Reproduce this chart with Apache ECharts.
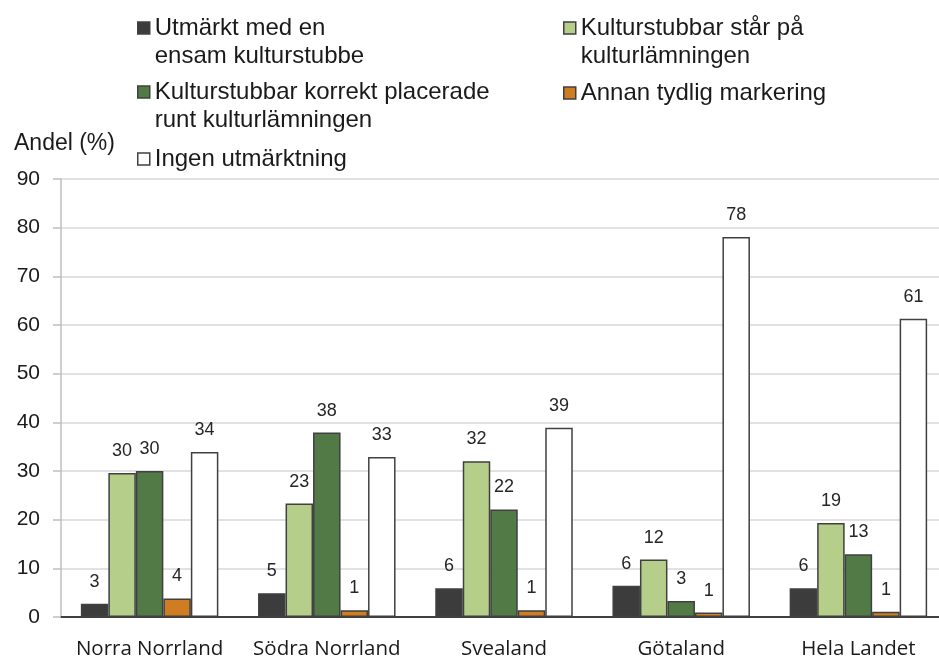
<!DOCTYPE html>
<html>
<head>
<meta charset="utf-8">
<script src="https://cdn.jsdelivr.net/npm/echarts@6/dist/echarts.min.js"></script>
<style>
  html, body { margin: 0; padding: 0; background: #fff; }
  #root { width: 939px; height: 656px; }
</style>
</head>
<body>
<div id="root"></div>
<script>
const categories = ['Norra Norrland', 'Södra Norrland', 'Svealand', 'Götaland', 'Hela Landet']
const yTicks = [0, 10, 20, 30, 40, 50, 60, 70, 80, 90]

const seriesNames = [
  'Utmärkt med en\nensam kulturstubbe',
  'Kulturstubbar står på\nkulturlämningen',
  'Kulturstubbar korrekt placerade\nrunt kulturlämningen',
  'Annan tydlig markering',
  'Ingen utmärktning'
]
const ensam = [2.7, 4.9, 5.9, 6.4, 5.9]
const star = [29.6, 23.3, 32.0, 11.8, 19.3]
const korrekt = [30.0, 37.9, 22.1, 3.3, 12.9]
const annan = [3.8, 1.4, 1.4, 0.9, 1.1]
const ingen = [33.9, 32.9, 38.9, 78.1, 61.3]

const seriesData = [ensam, star, korrekt, annan, ingen]
const colors = ['#3c3c3c', '#b5cf8a', '#527a47', '#cf7c23', '#ffffff']

const font = 'Liberation Sans, Arial, sans-serif'
const border = '#404040'

// legend placement: [left, top]; two-line names get an empty first line
// so the icon sits level with the first line of text
const legendPos = [
  [137, -14],
  [563, -14],
  [137, 50],
  [563, 79],
  [137, 145]
]

const legends = seriesNames.map((name, i) => {
  const [left, top] = legendPos[i]
  return {
    data: [name],
    left, top,
    padding: 0,
    icon: 'rect',
    itemWidth: 12,
    itemHeight: 12,
    selectedMode: false,
    itemStyle: { borderColor: border, borderWidth: 1.5 },
    formatter: n => n.indexOf('\n') >= 0 ? '\n' + n : n,
    textStyle: { fontFamily: font, fontSize: 24, color: '#1a1a1a', lineHeight: 28 }
  }
})

const series = seriesNames.map((name, i) => ({
  name,
  type: 'bar',
  data: seriesData[i],
  barWidth: 27.5,
  barGap: '0%',
  itemStyle: { color: colors[i], borderColor: border, borderWidth: 1.5 },
  label: {
    show: true,
    position: 'top',
    distance: 13,
    fontFamily: font,
    fontSize: 18,
    color: '#262626',
    formatter: p => Math.round(p.value)
  }
}))

const chart = echarts.init(document.getElementById('root'))
chart.setOption({
  animation: false,
  title: {
    text: 'Andel (%)', left: 9, top: 127,
    textStyle: { fontFamily: font, fontSize: 23, fontWeight: 'normal', color: '#1a1a1a' }
  },
  legend: legends,
  grid: { left: 61, right: -8, top: 179, bottom: 39, containLabel: false, outerBoundsMode: 'none' },
  xAxis: {
    type: 'category',
    data: categories,
    axisLine: { lineStyle: { color: '#404040', width: 2 } },
    axisTick: { show: false },
    axisLabel: { interval: 0, fontFamily: 'Open Sans, sans-serif', fontSize: 20.5, color: '#1a1a1a', margin: 22 }
  },
  yAxis: {
    type: 'value',
    min: yTicks[0],
    max: yTicks[yTicks.length - 1],
    interval: 10,
    axisLine: { show: true, lineStyle: { color: '#bfbfbf', width: 1.5 } },
    axisTick: { show: true, length: 8, lineStyle: { color: '#bfbfbf', width: 1.5 } },
    axisLabel: { fontFamily: font, fontSize: 21, color: '#1a1a1a', margin: 21 },
    splitLine: { lineStyle: { color: '#d9d9d9', width: 1.5 } }
  },
  series
})
</script>
</body>
</html>
